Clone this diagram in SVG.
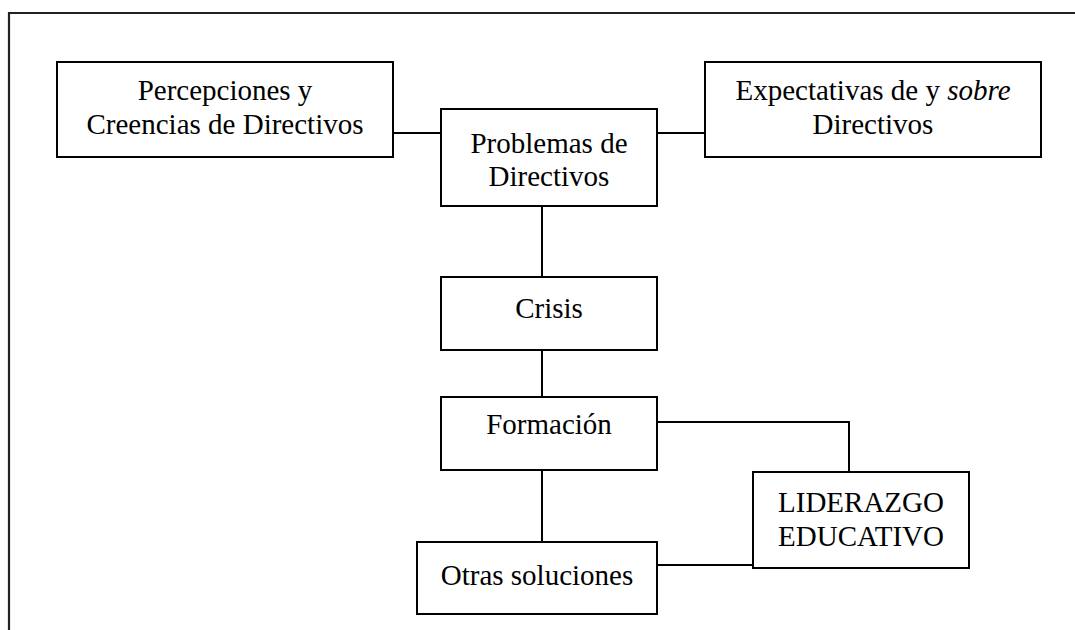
<svg xmlns="http://www.w3.org/2000/svg" width="1075" height="630" viewBox="0 0 1075 630">
<style>
.box{fill:#fff;stroke:#000;stroke-width:2}
.t{font-family:"Liberation Serif","Times New Roman",serif;font-size:29px;fill:#000;text-anchor:middle}
.c{fill:none;stroke:#000;stroke-width:2}
</style>
<rect width="1075" height="630" fill="#fff"/>
<path d="M9,640 V13 H1090" fill="none" stroke="#222" stroke-width="2.2"/>
<g id="connectors">
<path class="c" d="M393,133 H441"/>
<path class="c" d="M657,133 H705"/>
<path class="c" d="M542,206 V277"/>
<path class="c" d="M542,350 V397"/>
<path class="c" d="M542,470 V542"/>
<path class="c" d="M657,422 H849 V472"/>
<path class="c" d="M657,565 H753"/>
</g>
<g id="percepciones">
<rect class="box" x="57" y="62" width="336" height="95"/>
<text class="t" x="225" y="100">Percepciones y</text>
<text class="t" x="225" y="134">Creencias de Directivos</text>
</g>
<g id="problemas">
<rect class="box" x="441" y="109" width="216" height="97"/>
<text class="t" x="549" y="153">Problemas de</text>
<text class="t" x="549" y="186">Directivos</text>
</g>
<g id="expectativas">
<rect class="box" x="705" y="62" width="336" height="95"/>
<text class="t" x="873" y="100">Expectativas de y <tspan font-style="italic">sobre</tspan></text>
<text class="t" x="873" y="134">Directivos</text>
</g>
<g id="crisis">
<rect class="box" x="441" y="277" width="216" height="73"/>
<text class="t" x="549" y="318">Crisis</text>
</g>
<g id="formacion">
<rect class="box" x="441" y="397" width="216" height="73"/>
<text class="t" x="549" y="434">Formación</text>
</g>
<g id="liderazgo">
<rect class="box" x="753" y="472" width="216" height="96"/>
<text class="t" x="861" y="512">LIDERAZGO</text>
<text class="t" x="861" y="546">EDUCATIVO</text>
</g>
<g id="otras">
<rect class="box" x="417" y="542" width="240" height="72"/>
<text class="t" x="537" y="585">Otras soluciones</text>
</g>
</svg>
